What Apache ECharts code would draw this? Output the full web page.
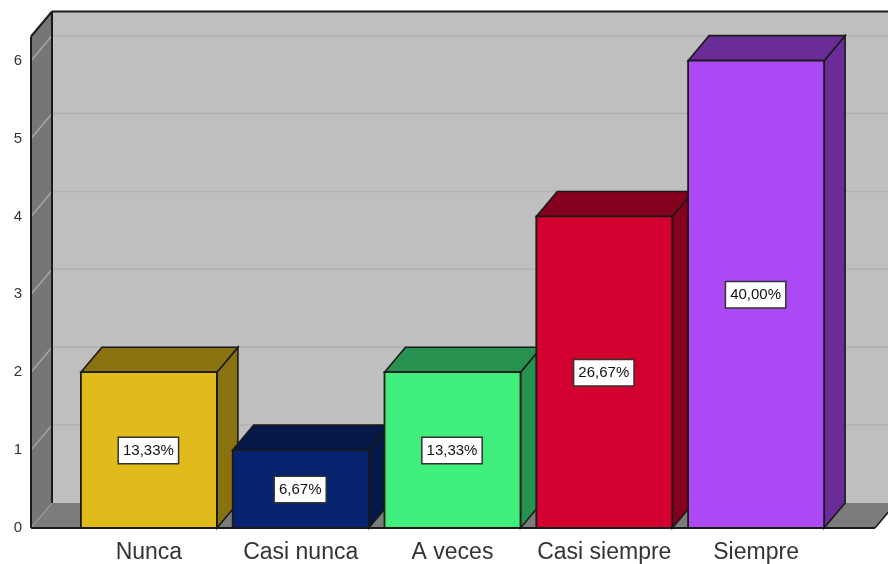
<!DOCTYPE html>
<html><head><meta charset="utf-8">
<style>html,body{margin:0;padding:0;background:#fff}#c{width:888px;height:564px}</style>
<script src="https://cdn.jsdelivr.net/npm/echarts@6/dist/echarts.min.js"></script>
</head><body><div id="c"></div>
<script>
const categories = ['Nunca','Casi nunca','A veces','Casi siempre','Siempre'];
const counts = [2,1,2,4,6];
const percentLabels = ['13,33%','6,67%','13,33%','26,67%','40,00%'];
const frontColors = ['#E1BB1C','#06236F','#40EE7C','#D3002F','#AB4AF5'];
const sideColors = ['#8A7210','#051848','#279150','#85001F','#6A2C96'];
const yTicks = [0,1,2,3,4,5,6];
const DX = 21, DY = 25, BAND_FILL = 136, AXIS_SHIFT = 42;
const EDGE = '#1a1a1a';
const chart = echarts.init(document.getElementById('c'), null, {renderer:'canvas'});

function poly(points, fill, stroke, lw){
  return {type:'polygon', shape:{points}, style:{fill, stroke:stroke||null, lineWidth:lw||0}};
}
function seg(a,b,color,lw){
  return {type:'line', shape:{x1:a[0],y1:a[1],x2:b[0],y2:b[1]}, style:{stroke:color,lineWidth:lw||1}};
}
function renderWalls(params, api){
  const cs = params.coordSys;
  const L = cs.x - AXIS_SHIFT, B = cs.y + cs.height, T = cs.y, R = 875;
  const ch = [];
  ch.push(poly([[L+DX,T-DY],[R+DX,T-DY],[R+DX,B-DY],[L+DX,B-DY]],'#BFBFBF'));
  ch.push(poly([[L,T],[L+DX,T-DY],[L+DX,B-DY],[L,B]],'#767676'));
  ch.push(poly([[L,B],[L+DX,B-DY],[R+DX,B-DY],[R,B]],'#7C7C7C'));
  yTicks.slice(1).forEach(t=>{
    const y = api.coord([0,t])[1];
    ch.push(seg([L,y],[L+DX,y-DY],'#A6A6A6',1.5));
    ch.push(seg([L+DX,y-DY],[R+DX,y-DY],'#B0B0B0',1.5));
  });
  ch.push(seg([L+DX,T-DY],[R+DX,T-DY],EDGE,2));
  ch.push(seg([L+DX,T-DY],[L+DX,B-DY],EDGE,2));
  ch.push(seg([L,T],[L+DX,T-DY],EDGE,2));
  ch.push(seg([L,T],[L,B],EDGE,2));
  ch.push(seg([L,B],[L+DX,B-DY],'#A6A6A6',1));
  ch.push(seg([L,B],[R,B],EDGE,2));
  ch.push(seg([R,B],[R+DX,B-DY],EDGE,1.5));
  return {type:'group', children:ch};
}
function renderBar(params, api){
  const i = api.value(0), v = api.value(1);
  const c = api.coord([i,v]), b = api.coord([i,0]);
  const w = BAND_FILL, l = c[0]-w/2, r = c[0]+w/2, t = c[1], bot = b[1];
  const fc = frontColors[i], sc = sideColors[i];
  return {type:'group', children:[
    poly([[r,bot],[r+DX,bot-DY],[r+DX,t-DY],[r,t]], sc, EDGE, 1.6),
    poly([[l,t],[l+DX,t-DY],[r+DX,t-DY],[r,t]], sc, EDGE, 1.6),
    {type:'rect', shape:{x:l,y:t,width:w,height:bot-t}, style:{fill:fc,stroke:EDGE,lineWidth:1.8}},
    {type:'text', x:c[0]-0.5, y:(t+bot)/2+0.5, z2:10, style:{
      text:percentLabels[i], fill:'#111', font:'15px "Liberation Sans"',
      align:'center', verticalAlign:'middle',
      backgroundColor:'#fff', borderColor:'#333', borderWidth:1.5,
      padding:[6,4,4,4]
    }}
  ]};
}
chart.setOption({
  animation:false,
  backgroundColor:'#fff',
  grid:{left:73,right:56,top:36.5,bottom:35.5},
  xAxis:{type:'category',data:categories,axisTick:{show:false},axisLine:{show:false},
    axisLabel:{color:'#333',fontFamily:'Liberation Sans',fontSize:23,margin:13,interval:0}},
  yAxis:{type:'value',min:0,max:6.31,interval:1,offset:AXIS_SHIFT,splitLine:{show:false},
    axisLine:{show:false},axisTick:{show:false},
    axisLabel:{color:'#333',fontFamily:'Liberation Sans',fontSize:15,margin:9,padding:[6,0,0,0],
      showMaxLabel:false,formatter:v=>Number.isInteger(v)?String(v):''}},
  series:[
    {type:'custom',renderItem:renderWalls,data:[[0,0]],clip:false,silent:true,z:1},
    {type:'custom',renderItem:renderBar,data:counts.map((v,i)=>[i,v]),clip:false,z:2,
      encode:{x:0,y:1}}
  ]
});
</script></body></html>
